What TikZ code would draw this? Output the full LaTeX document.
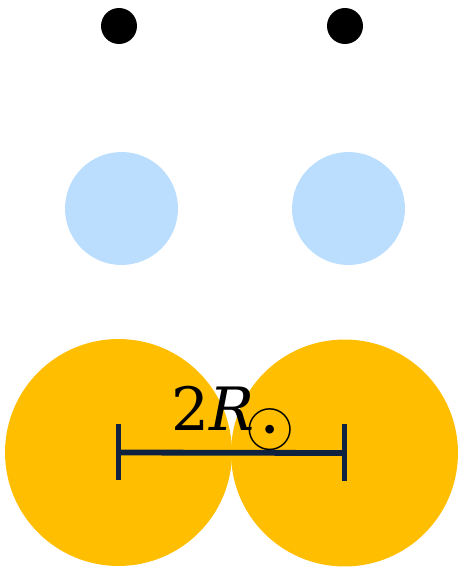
\documentclass[tikz,border=0pt]{standalone}
\usepackage{fontspec}
\setmainfont{DejaVu Serif}
\begin{document}
\begin{tikzpicture}[
    x=0.02cm,y=-0.02cm,
    font=\fontsize{34}{36}\selectfont,
    disc/.style={circle,inner sep=0pt,minimum size=#1},
    barline/.style={line width=3.3pt}
  ]
    \definecolor{star}{HTML}{FFBF00}
    \definecolor{halo}{HTML}{BBDEFF}
    \definecolor{bar}{HTML}{0F2340}
    \path[use as bounding box] (0,0) rectangle (461,568);
    \node[disc=0.72cm,fill=black] (dotl) at (119,26) {};
    \node[disc=0.72cm,fill=black] (dotr) at (345,26) {};
    \node[disc=2.26cm,fill=halo] (halol) at (121.5,208.5) {};
    \node[disc=2.26cm,fill=halo] (halor) at (348.5,208.5) {};
    \node[disc=4.54cm,fill=star] (starl) at (118.5,452.5) {};
    \node[disc=4.54cm,fill=star] (starr) at (344.5,453) {};
    \draw[bar,barline] (starl.center) -- (starr.center);
    \draw[bar,barline] ([yshift=-0.56cm]starl.center) -- ([yshift=0.58cm]starl.center);
    \draw[bar,barline] ([yshift=-0.56cm]starr.center) -- ([yshift=0.58cm]starr.center);
    \node[anchor=base west,inner sep=0pt] (lbl) at (171,430)
      {2\textit{R}\hspace{-5pt}\raisebox{-9pt}{\scalebox{1.45}{$\odot$}}};
  \end{tikzpicture}
\end{document}
